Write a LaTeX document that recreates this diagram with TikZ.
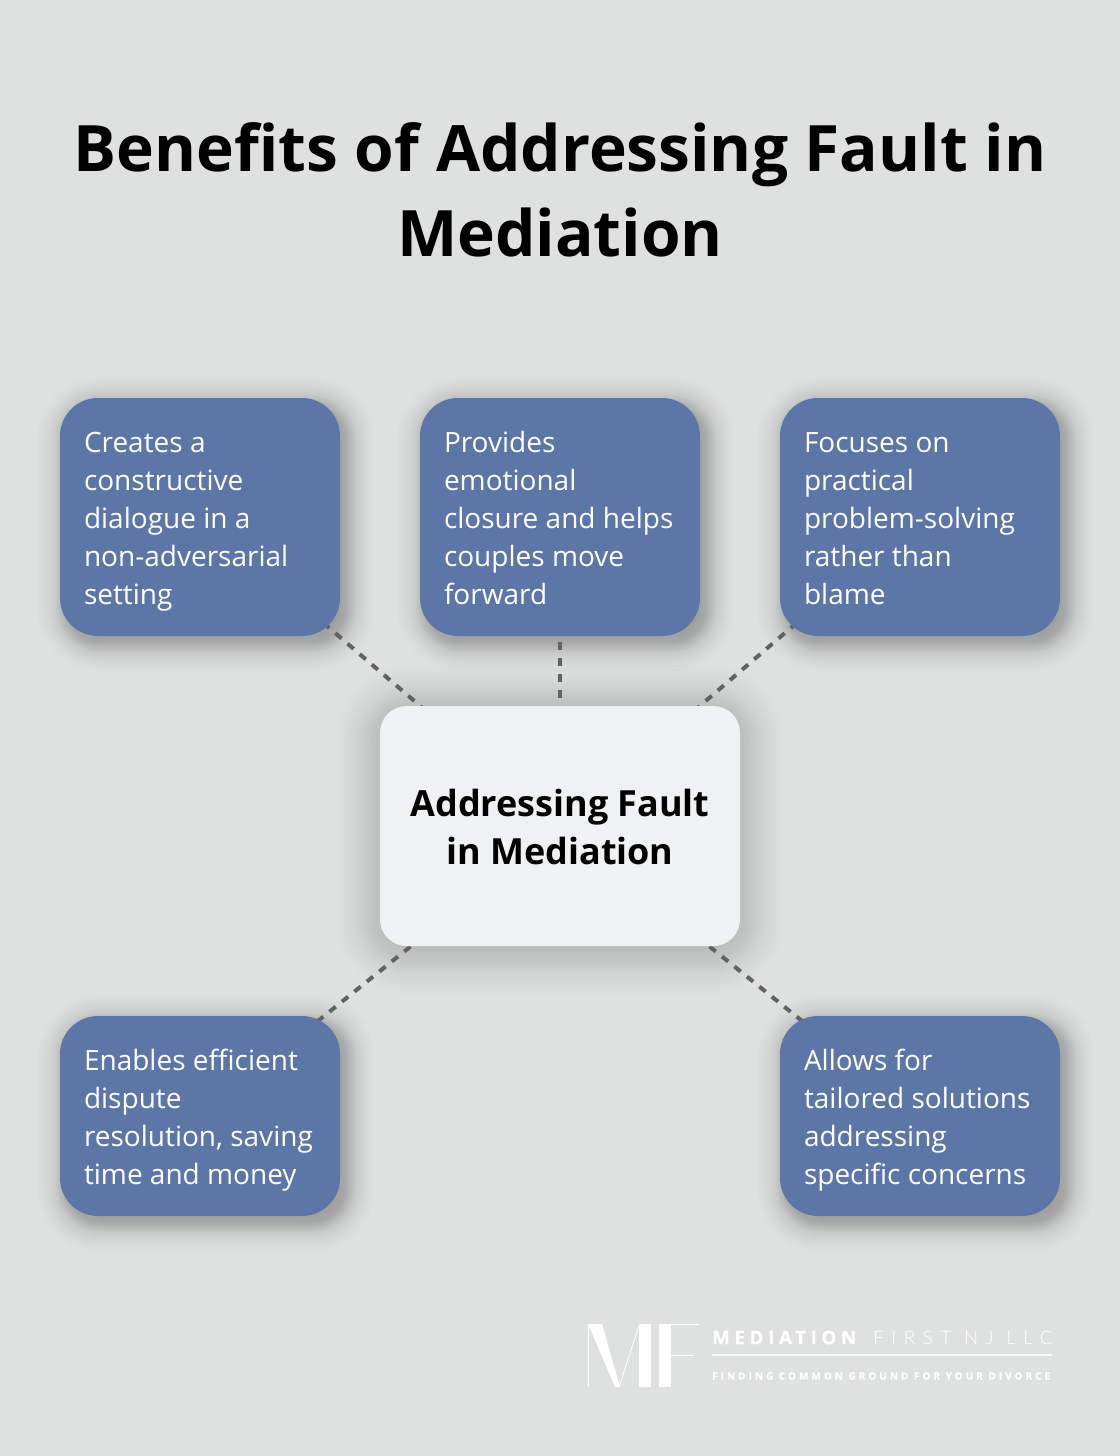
\documentclass[tikz,border=0pt]{standalone}
\usepackage{fontspec}
\setmainfont{Open Sans}
\newfontfamily\logobold[LetterSpace=25, FakeBold=0.5]{Open Sans Bold}
\newfontfamily\logothin[LetterSpace=41]{Lato Light}
\newfontfamily\logotag[LetterSpace=30, FakeBold=0.4]{Open Sans Bold}
\usepackage{tikz}
\usetikzlibrary{backgrounds, calc}

\definecolor{pagegray}{HTML}{DFE1E0}
\definecolor{boxblue}{HTML}{5D76A8}
\definecolor{centerwhite}{HTML}{F0F1F3}
\definecolor{linkgray}{HTML}{626262}

\tikzset{
    benefit/.style={fill=boxblue, text=white, rounded corners=28.5pt, minimum width=210pt, text width=174pt, inner xsep=18pt, inner ysep=0pt, align=flush left, text height=40.5pt, font=\fontsize{21}{28.5}\selectfont},
    hub/.style={fill=centerwhite, text=black, rounded corners=20pt, minimum width=270pt, inner ysep=0pt, text height=118.5pt, text depth=61.5pt, align=center, font=\fontsize{27}{36}\selectfont\bfseries},
    link/.style={draw=linkgray, line width=3pt, dash pattern=on 6pt off 6pt},
    logoline/.style={white, line width=0.6pt},
}

\begin{document}
\begin{tikzpicture}[x=0.75pt, y=-0.75pt]
    \useasboundingbox (0,0) rectangle (1120,1456);

    \node[align=center, font=\fontsize{48}{64}\selectfont\bfseries] (title) at (560,190) {Benefits of Addressing Fault in\\Mediation};

    \node[hub] (hub) at (560,826) {Addressing Fault\\in Mediation};

    \node[benefit, text depth=138pt] (creates) at (200,517) {Creates a\\constructive\\dialogue in a\\non-adversarial\\setting};
    \node[benefit, text depth=138pt] (closure) at (560,517) {Provides\\emotional\\closure and helps\\couples move\\forward};
    \node[benefit, text depth=138pt] (practical) at (920,517) {Focuses on\\practical\\problem-solving\\rather than\\blame};
    \node[benefit, text depth=109.5pt] (efficient) at (200,1116) {Enables efficient\\dispute\\resolution, saving\\time and money};
    \node[benefit, text depth=109.5pt] (tailored) at (920,1116) {Allows for\\tailored solutions\\addressing\\specific concerns};

    \begin{pgfonlayer}{background}
        \fill[pagegray] (0,0) rectangle (1120,1456);
        \foreach \s in {-12,-8,...,8,10,12,...,24,27,30,33,36,40,44}
            \fill[black, opacity=0.0095, rounded corners=24pt+\s*0.75pt]
                ($(hub.south west)+(-\s,4+\s)$) rectangle ($(hub.north east)+(\s,4-\s)$);
        \foreach \n in {creates,closure,practical,efficient,tailored}
            \foreach \s in {-12,-10,...,-2,-1,0,...,10,12,14,16,18,21,24,28}
                \fill[black, opacity=0.012, rounded corners=26pt+\s*0.75pt]
                    ($(\n.south west)+(6-\s,7+\s)$) rectangle ($(\n.north east)+(6+\s,7-\s)$);
        \foreach \n in {creates,closure,practical,efficient,tailored}
            \draw[link] (hub.center) -- (\n.center);
    \end{pgfonlayer}

    % logo
    \fill[white] (588,1324) -- (602,1324) -- (620,1387) -- (615,1387) -- cycle;
    \draw[logoline] (588.3,1324) -- (588.3,1387);
    \draw[logoline] (619,1387) -- (639.5,1324);
    \fill[white] (639,1324) rectangle (651,1387);
    \fill[white] (659,1324) rectangle (671,1387);
    \draw[logoline] (659,1324.3) -- (699,1324.3);
    \draw[logoline] (671,1355.3) -- (693,1355.3);
    \node[white, anchor=west, inner sep=0pt, font=\fontsize{14}{14}\logobold] (brand) at (712,1337.5) {MEDIATION};
    \node[white, anchor=west, inner sep=0pt, font=\fontsize{14}{14}\logothin] (firm) at (873,1337.5) {FIRST NJ LLC};
    \draw[white, opacity=0.8, line width=0.9pt] (712,1355) -- (1052,1355);
    \node[white, anchor=west, inner sep=0pt, font=\fontsize{7.5}{8}\logotag] (motto) at (712,1376) {FINDING COMMON GROUND FOR YOUR DIVORCE};
\end{tikzpicture}
\end{document}
